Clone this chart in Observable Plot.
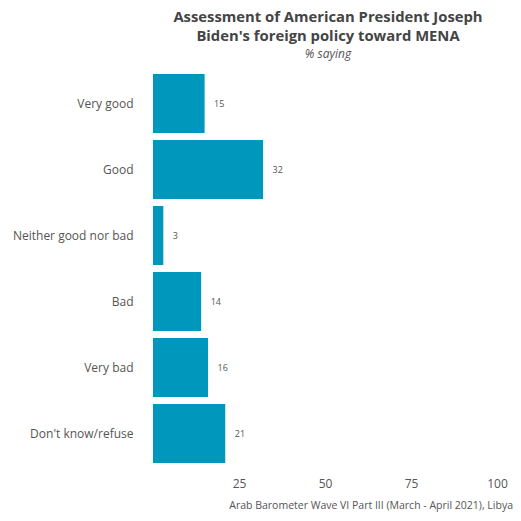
<!DOCTYPE html>
<html>
<head>
<meta charset="utf-8">
<script src="https://cdn.jsdelivr.net/npm/d3@7"></script>
<script src="https://cdn.jsdelivr.net/npm/@observablehq/plot@0.6"></script>
<style>
  html, body { margin: 0; padding: 0; background: #fff; }
  body { width: 521px; height: 521px; font-family: "Open Sans", sans-serif; overflow: hidden; }
  .title { position: absolute; left: 153px; width: 350px; text-align: center; font-weight: 700; font-size: 14.8px; line-height: 19px; height: 19px; color: #444; }
  #t1 { top: 7px; }
  #t2 { top: 26px; }
  #subtitle { position: absolute; left: 153px; width: 350px; top: 48px; text-align: center; font-style: italic; font-size: 12px; line-height: 12px; height: 12px; color: #555; }
  #chart { position: absolute; left: 0; top: 60px; }
  #caption { position: absolute; right: 8px; top: 498px; font-size: 10.5px; color: #555; }
</style>
</head>
<body>
<div class="title" id="t1">Assessment of American President Joseph</div>
<div class="title" id="t2">Biden's foreign policy toward MENA</div>
<div id="subtitle">% saying</div>
<div id="chart"></div>
<div id="caption">Arab Barometer Wave VI Part III (March - April 2021), Libya</div>
<script>
const categories = ["Very good", "Good", "Neither good nor bad", "Bad", "Very bad", "Don't know/refuse"];
const values = [15, 32, 3, 14, 16, 21];
const xTicks = [25, 50, 75, 100];

const data = categories.map((c, i) => ({category: c, value: values[i]}));

const plot = Plot.plot({
  width: 521,
  height: 442,
  marginLeft: 153,
  marginRight: 24,
  marginTop: 6,
  marginBottom: 30,
  style: {fontFamily: "Open Sans, sans-serif", color: "#555", background: "transparent"},
  x: {domain: [0, 100], ticks: xTicks, label: null, tickSize: 0, tickPadding: 7},
  y: {domain: categories, label: null, padding: 0.1, tickSize: 0, tickPadding: 20},
  marks: [
    Plot.barX(data, {x: "value", y: "category", fill: "#0097BD"}),
    Plot.text(data, {x: "value", y: "category", text: d => String(d.value), dx: 9, textAnchor: "start", fontSize: 9, fill: "#555"}),
    Plot.axisX({ticks: xTicks, tickSize: 0, tickPadding: 7, fontSize: 12, label: null}),
    Plot.axisY({tickSize: 0, tickPadding: 20, fontSize: 12, label: null})
  ]
});
document.getElementById("chart").appendChild(plot);
</script>
</body>
</html>
